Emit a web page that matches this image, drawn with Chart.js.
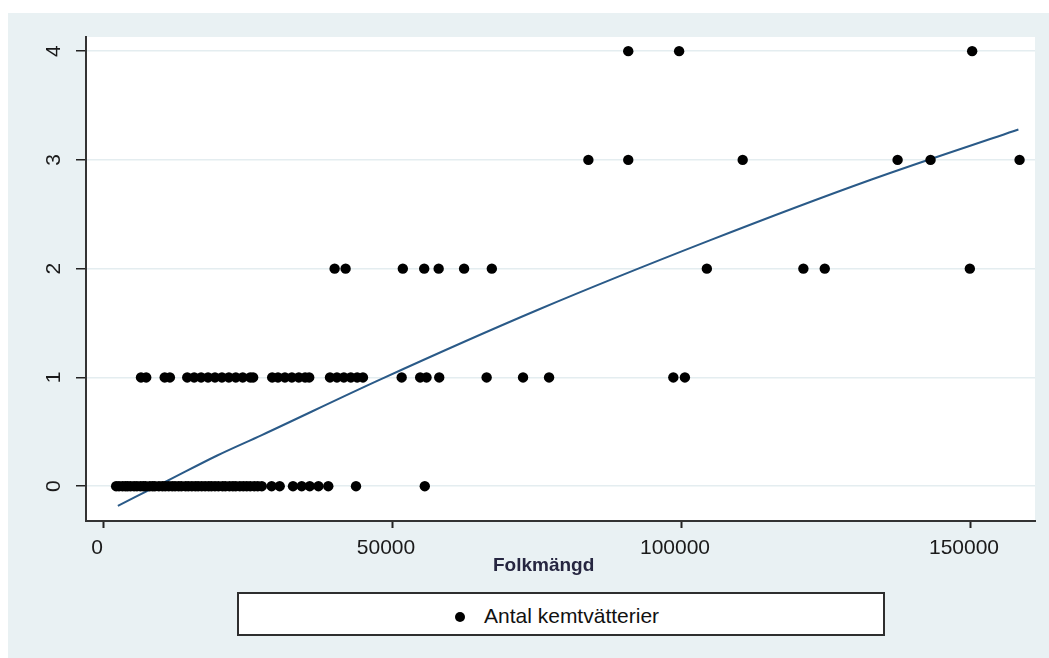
<!DOCTYPE html>
<html>
<head>
<meta charset="utf-8">
<script src="https://cdn.jsdelivr.net/npm/chart.js@4.4.1/dist/chart.umd.min.js"></script>
<style>
    body {
        margin: 0;
        width: 1049px;
        height: 658px;
        overflow: hidden;
        position: relative;
        background: #fff;
        font-family: "Liberation Sans", Arial, sans-serif;
        color: #1a1a1a;
    }
    #wrap {
        position: absolute;
        left: 8px;
        top: 13px;
        width: 1041px;
        height: 645px;
        background: #e9f1f3;
    }
    #xtitle {
        position: absolute;
        left: 493px;
        top: 553px;
        font-size: 19px;
        font-weight: bold;
        line-height: 24px;
        color: #262640;
    }
    #legend {
        position: absolute;
        left: 237px;
        top: 592px;
        width: 648px;
        height: 44px;
        box-sizing: border-box;
        border: 2px solid #2e2e2e;
        background: #fff;
    }
    #legend .dot {
        position: absolute;
        left: 216px;
        top: 18px;
        width: 10px;
        height: 10px;
        border-radius: 50%;
        background: #000;
    }
    #legend .txt {
        position: absolute;
        left: 245px;
        top: 10px;
        font-size: 21px;
        line-height: 24px;
        color: #111;
    }
</style>
</head>
<body>
<div id="wrap"><canvas id="scatterChart"></canvas></div>
<div id="xtitle">Folkmängd</div>
<div id="legend"><span class="dot"></span><span class="txt">Antal kemtvätterier</span></div>

<script>
// folkmängd per kommun, grouped by antal kemtvätterier (0..4)
const pop0 = [2100, 2600, 3200, 3700, 4100, 4600, 5200, 5700, 6300, 6800, 7200, 7900, 8400, 8800,
    9500, 10100, 10600, 11200, 11800, 12300, 12900, 13400, 14100, 14600, 15200, 15800, 16300,
    16900, 17500, 18100, 18600, 19200, 19800, 20500, 21000, 21700, 22300, 22800, 23500, 24100,
    24700, 25300, 26000, 26600, 27300, 29000, 30400, 32700, 34200, 35600, 37100, 38800, 43600, 55500];
const pop1 = [6400, 7300, 10500, 11400, 14400, 15600, 16800, 18000, 19200, 20400, 21600, 22800,
    24000, 25300, 25800, 29100, 30100, 31300, 32500, 33700, 34800, 35500, 39100, 40300, 41500,
    42700, 43800, 44800, 51500, 54700, 55800, 58000, 66200, 72500, 77000, 98500, 100500];
const pop2 = [39900, 41800, 51700, 55400, 57900, 62300, 67100, 104300, 121000, 124700, 149800];
const pop3 = [83800, 90700, 110500, 137300, 143000, 158400];
const pop4 = [90700, 99500, 150200];

// fitted line
const fitX = [2400, 11000, 19500, 27300, 47750, 75000, 104800, 132800, 158200];
const fitY = [-0.18, 0.05, 0.28, 0.47, 0.98, 1.62, 2.26, 2.82, 3.28];

const xTicks = [0, 50000, 100000, 150000];
const yTicks = [0, 1, 2, 3, 4];

const font = '"Liberation Sans", Arial, sans-serif';

const points = [];
[pop0, pop1, pop2, pop3, pop4].forEach((arr, antal) => {
    arr.forEach(p => points.push({ x: p, y: antal }));
});
const fitLine = fitX.map((x, i) => ({ x: x, y: fitY[i] }));

const plotBg = {
    id: 'plotBg',
    beforeDraw(chart) {
        const { ctx, chartArea: a } = chart;
        ctx.save();
        ctx.fillStyle = '#fff';
        ctx.fillRect(a.left, a.top, a.right - a.left, a.bottom - a.top);
        ctx.restore();
    }
};

// stata style vertical labels on y axis
const yLabels = {
    id: 'yLabels',
    afterDraw(chart) {
        const ctx = chart.ctx;
        const y = chart.scales.y;
        ctx.save();
        ctx.font = '21px ' + font;
        ctx.fillStyle = '#1a1a1a';
        ctx.textAlign = 'center';
        ctx.textBaseline = 'middle';
        y.ticks.forEach(t => {
            ctx.save();
            ctx.translate(y.right - 32, y.getPixelForValue(t.value));
            ctx.rotate(-Math.PI / 2);
            ctx.fillText(String(t.value), 0, 0);
            ctx.restore();
        });
        ctx.restore();
    }
};

const ctx = document.getElementById('scatterChart');

new Chart(ctx, {
    type: 'scatter',
    data: {
        datasets: [
            {
                label: 'Antal kemtvätterier',
                data: points,
                backgroundColor: '#000',
                borderWidth: 0,
                pointRadius: 5.2,
                pointHoverRadius: 5.2,
                order: 0
            },
            {
                label: 'Fitted values',
                data: fitLine,
                showLine: true,
                borderColor: '#2a5a88',
                borderWidth: 2,
                pointRadius: 0,
                cubicInterpolationMode: 'monotone',
                order: 1
            }
        ]
    },
    options: {
        responsive: true,
        maintainAspectRatio: false,
        animation: false,
        layout: { padding: { left: 0, top: 24, right: 14, bottom: 0 } },
        plugins: {
            legend: { display: false },
            tooltip: { enabled: false }
        },
        scales: {
            x: {
                type: 'linear',
                min: -3114,
                max: 161073,
                afterBuildTicks: s => { s.ticks = xTicks.map(v => ({ value: v })); },
                afterFit: s => { s.height = 137; },
                border: { display: true, color: '#333', width: 2 },
                grid: {
                    drawOnChartArea: false,
                    drawTicks: true,
                    tickLength: 7,
                    tickColor: '#222',
                    tickWidth: 2
                },
                ticks: {
                    autoSkip: false,
                    maxRotation: 0,
                    padding: 8,
                    labelOffset: -7,
                    color: '#1a1a1a',
                    font: { family: font, size: 21 },
                    callback: v => String(v)
                }
            },
            y: {
                type: 'linear',
                min: -0.32,
                max: 4.13,
                afterBuildTicks: s => { s.ticks = yTicks.map(v => ({ value: v })); },
                afterFit: s => { s.width = 78; },
                border: { display: true, color: '#333', width: 2 },
                grid: {
                    color: '#e4edf0',
                    lineWidth: 1.5,
                    drawTicks: true,
                    tickLength: 10,
                    tickColor: '#222',
                    tickWidth: 1.5
                },
                ticks: { display: false }
            }
        }
    },
    plugins: [plotBg, yLabels]
});
</script>
</body>
</html>
